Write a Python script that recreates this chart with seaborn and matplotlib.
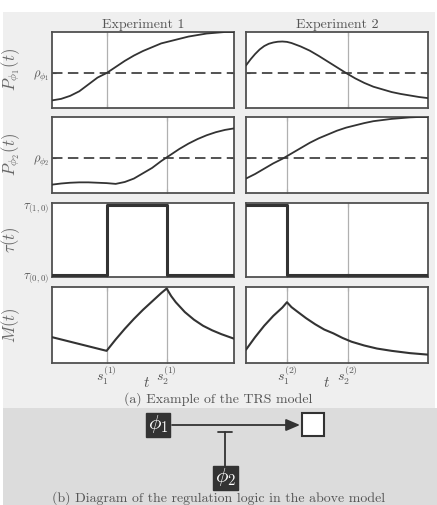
import matplotlib
matplotlib.use("Agg")
import matplotlib.pyplot as plt
from matplotlib.patches import Rectangle
import seaborn as sns

# ---------------- data ----------------
experiments = ["Experiment 1", "Experiment 2"]
switch_1 = [0.30, 0.63]      # s_1^(1), s_2^(1)
switch_2 = [0.225, 0.56]     # s_1^(2), s_2^(2)
rho_phi1 = 0.46
rho_phi2 = 0.46

t_grid = [0.0, 0.05, 0.1, 0.15, 0.2, 0.25, 0.3, 0.35, 0.4, 0.45, 0.5,
          0.55, 0.6, 0.65, 0.7, 0.75, 0.8, 0.85, 0.9, 0.95, 1.0]

p1_exp1 = [0.10, 0.12, 0.16, 0.22, 0.31, 0.40, 0.46, 0.54, 0.62, 0.69, 0.75,
           0.80, 0.85, 0.88, 0.91, 0.94, 0.96, 0.98, 0.99, 1.00, 1.00]
p1_exp2_t = [0.0, 0.025, 0.05, 0.075, 0.1, 0.125, 0.15, 0.175, 0.2, 0.225, 0.25,
             0.3, 0.35, 0.4, 0.45, 0.5, 0.55, 0.6, 0.65, 0.7, 0.75, 0.8, 0.85,
             0.9, 0.95, 1.0]
p1_exp2 = [0.56, 0.64, 0.71, 0.77, 0.815, 0.845, 0.862, 0.872, 0.875, 0.87, 0.855,
           0.81, 0.755, 0.685, 0.61, 0.535, 0.46, 0.39, 0.33, 0.28, 0.245, 0.21,
           0.185, 0.165, 0.145, 0.13]
p2_exp1 = [0.11, 0.125, 0.135, 0.14, 0.14, 0.135, 0.13, 0.12, 0.145, 0.19, 0.26,
           0.33, 0.42, 0.50, 0.58, 0.65, 0.71, 0.76, 0.80, 0.83, 0.85]
p2_exp2 = [0.19, 0.25, 0.32, 0.39, 0.45, 0.52, 0.59, 0.66, 0.72, 0.77, 0.82,
           0.86, 0.89, 0.92, 0.945, 0.96, 0.975, 0.985, 0.995, 1.00, 1.00]

tau_t1 = [0.0, 0.30, 0.63, 1.0]
tau_exp1 = [0, 1, 0, 0]
tau_t2 = [0.0, 0.225, 1.0]
tau_exp2 = [1, 0, 0]
tau_ticklabels = [r"$\tau_{(0,0)}$", r"$\tau_{(1,0)}$"]

m_t1 = [0.0, 0.05, 0.1, 0.15, 0.2, 0.25, 0.3, 0.35, 0.4, 0.45, 0.5, 0.55,
        0.6, 0.63, 0.655, 0.68, 0.73, 0.78, 0.83, 0.88, 0.93, 1.0]
m_exp1 = [0.34, 0.31, 0.28, 0.25, 0.22, 0.19, 0.16, 0.31, 0.45, 0.58, 0.70, 0.81,
          0.92, 0.98, 0.88, 0.80, 0.67, 0.57, 0.49, 0.43, 0.38, 0.32]
m_t2 = [0.0, 0.05, 0.1, 0.15, 0.2, 0.225, 0.25, 0.28, 0.33, 0.38, 0.43, 0.48, 0.53,
        0.58, 0.65, 0.72, 0.8, 0.9, 1.0]
m_exp2 = [0.175, 0.34, 0.49, 0.62, 0.73, 0.80, 0.735, 0.68, 0.59, 0.51, 0.44, 0.39, 0.33,
          0.28, 0.23, 0.19, 0.16, 0.13, 0.11]

row_labels = [r"$P_{\phi_1}(t)$", r"$P_{\phi_2}(t)$", r"$\tau(t)$", r"$M(t)$"]
xtick_labels_1 = [r"$s_1^{(1)}$", r"$s_2^{(1)}$"]
xtick_labels_2 = [r"$s_1^{(2)}$", r"$s_2^{(2)}$"]
caption_a = "(a) Example of the TRS model"
caption_b = "(b) Diagram of the regulation logic in the above model"

# ---------------- style ----------------
sns.set_theme(style="white")
plt.rcParams["font.family"] = ["cmr10", "DejaVu Serif"]
plt.rcParams["mathtext.fontset"] = "cm"
plt.rcParams["axes.unicode_minus"] = False

W, H = 437, 505
fig = plt.figure(figsize=(W / 100, H / 100), dpi=100)
fig.patch.set_facecolor("white")

# background panels
fig.patches.append(Rectangle((3 / W, 1 - 408 / H), 432 / W, (408 - 12) / H,
                             transform=fig.transFigure, facecolor="#efefef",
                             edgecolor="none", zorder=-10))
fig.patches.append(Rectangle((3 / W, 0), 434 / W, 1 - 408 / H,
                             transform=fig.transFigure, facecolor="#dcdcdc",
                             edgecolor="none", zorder=-10))

SPINE = "#505050"
LINE = "#333333"
VLINE = "#b0b0b0"
TXT = "#555555"

col_x = [52, 246]
col_w = 182
rows_y = [(32, 108), (117, 193), (203, 277), (287, 363)]
t_label_x = [0.52, 0.445]


def make_ax(col, row):
    x0 = col_x[col]
    y0, y1 = rows_y[row]
    ax = fig.add_axes([x0 / W, 1 - y1 / H, col_w / W, (y1 - y0) / H])
    ax.set_facecolor("white")
    for s in ax.spines.values():
        s.set_color(SPINE)
        s.set_linewidth(1.3)
    ax.tick_params(direction="in", length=3, width=0.8, color=SPINE,
                   top=True, bottom=True, left=True, right=True,
                   labelcolor=TXT, labelsize=9, pad=2)
    ax.set_xlim(0, 1)
    return ax


p1_ts = [t_grid, p1_exp2_t]
curves_p1 = [p1_exp1, p1_exp2]
curves_p2 = [p2_exp1, p2_exp2]
switches = [switch_1, switch_2]
tau_ts = [tau_t1, tau_t2]
taus = [tau_exp1, tau_exp2]
m_ts = [m_t1, m_t2]
ms = [m_exp1, m_exp2]
xlabels = [xtick_labels_1, xtick_labels_2]

for c in range(2):
    s1, s2 = switches[c]
    vl_rows = [[s1] if c == 0 else [s2], [s2] if c == 0 else [s1], [s1, s2], [s1, s2]]

    for r in range(4):
        ax = make_ax(c, r)
        for v in vl_rows[r]:
            ax.axvline(v, color=VLINE, lw=0.9, zorder=1)
        ax.set_xticks(vl_rows[r])

        if r == 0:
            ax.axhline(rho_phi1, color="#444444", lw=1.3, dashes=(5.8, 3.0), zorder=2)
            sns.lineplot(x=p1_ts[c], y=curves_p1[c], ax=ax, color=LINE, lw=1.3,
                         estimator=None, sort=False, zorder=3)
            ax.set_ylim(0, 1.0)
            ax.set_yticks([rho_phi1])
            ax.set_yticklabels([r"$\rho_{\phi_1}$"] if c == 0 else [""])
        elif r == 1:
            ax.axhline(rho_phi2, color="#444444", lw=1.3, dashes=(5.8, 3.0), zorder=2)
            sns.lineplot(x=t_grid, y=curves_p2[c], ax=ax, color=LINE, lw=1.3,
                         estimator=None, sort=False, zorder=3)
            ax.set_ylim(0, 1.0)
            ax.set_yticks([rho_phi2])
            ax.set_yticklabels([r"$\rho_{\phi_2}$"] if c == 0 else [""])
        elif r == 2:
            sns.lineplot(x=tau_ts[c], y=taus[c], ax=ax, color=LINE, lw=2.2,
                         estimator=None, sort=False, drawstyle="steps-post", zorder=3)
            ax.set_ylim(-0.03, 1.03)
            ax.set_yticks([0, 1])
            ax.set_yticklabels(tau_ticklabels if c == 0 else ["", ""])
            ax.tick_params(axis="y", length=0)
        else:
            sns.lineplot(x=m_ts[c], y=ms[c], ax=ax, color=LINE, lw=1.5,
                         estimator=None, sort=False, zorder=3)
            ax.set_ylim(0, 1.0)
            ax.set_yticks([])
            ax.set_xticklabels(xlabels[c], fontsize=10)
            ax.tick_params(axis="x", pad=1)
            ax.text(t_label_x[c], -0.165, r"$t$", transform=ax.transAxes, ha="center",
                    va="top", fontsize=11, color=TXT)
        ax.set_xlabel("")
        ax.set_ylabel("")
        if r < 3:
            ax.set_xticklabels([])
        if r == 0:
            ax.set_title(experiments[c], fontsize=10, color=TXT, pad=3)

# row labels
for r in range(4):
    y0, y1 = rows_y[r]
    fig.text(11 / W, 1 - ((y0 + y1) / 2) / H, row_labels[r], rotation=90,
             ha="center", va="center", fontsize=12, color="#666666")

# caption (a)
fig.text(0.5, 1 - 399 / H, caption_a, ha="center", va="center", fontsize=10, color="#555555")

# ---------------- diagram (b) ----------------
dax = fig.add_axes([0, 0, 1, 1 - 408 / H])
dax.set_xlim(0, W)
dax.set_ylim(H, 408)
dax.axis("off")
dax.patch.set_alpha(0)

DARK = "#333333"
dax.add_patch(Rectangle((146, 413), 24, 24, facecolor=DARK, edgecolor=DARK, lw=1))
dax.text(158, 424, r"$\phi_1$", color="white", ha="center", va="center", fontsize=15)
dax.add_patch(Rectangle((302, 413), 22, 23, facecolor="white", edgecolor=DARK, lw=1.5))
dax.annotate("", xy=(300, 425), xytext=(172, 425),
             arrowprops=dict(arrowstyle="-|>,head_length=0.7,head_width=0.3",
                             color=DARK, lw=1.3, shrinkA=0, shrinkB=0))
dax.plot([225, 225], [432, 466], color=DARK, lw=1.3)
dax.plot([218, 232], [432, 432], color=DARK, lw=1.3)
dax.add_patch(Rectangle((213, 466), 25, 24, facecolor=DARK, edgecolor=DARK, lw=1))
dax.text(225.5, 477, r"$\phi_2$", color="white", ha="center", va="center", fontsize=15)

fig.text(0.5, 1 - 498 / H, caption_b, ha="center", va="center", fontsize=10, color="#555555")

fig.savefig("out.png", dpi=100, facecolor=fig.get_facecolor())
